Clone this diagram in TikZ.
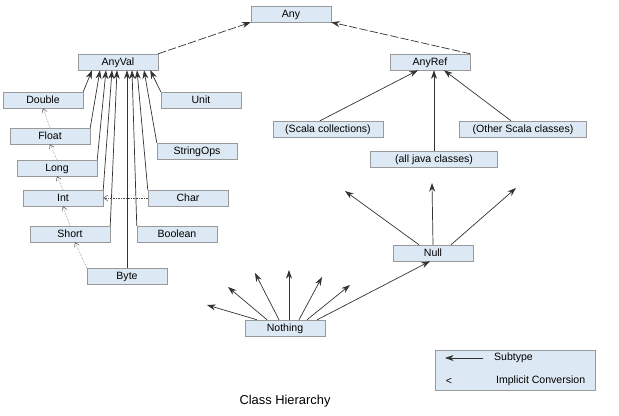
\documentclass[tikz,border=0pt]{standalone}
\usepackage{fontspec}
\setmainfont{Liberation Sans}
\usetikzlibrary{arrows.meta,positioning,calc}
\definecolor{boxfill}{RGB}{220,232,243}
\tikzset{classbox/.style={
		% The shape:
		rectangle,
		% The size:
		minimum width=24mm,minimum height=4.8mm,inner sep=1pt,
		% The border and filling:
		draw=black!40,fill=boxfill,
		% make sure text aligns properly
		font=\fontsize{9}{10}\selectfont,text height=1.5ex,text depth=.25ex,
}}
\tikzset{subtype/.style={-{Stealth[length=2.6mm,width=1.8mm]},black!80,semithick}}
\tikzset{implicit/.style={-{Straight Barb[length=1.2mm,width=1.6mm]},densely dotted,black!70}}

\begin{document}
\begin{tikzpicture}[x=0.03cm,y=-0.03cm]
	\useasboundingbox (0,0) rectangle (619,415);
	% top of the hierarchy
	\node [classbox] (any) at (291,14) {Any};
	\node [classbox] (anyval) at (118,62) {AnyVal};
	\node [classbox] (anyref) at (430,62) {AnyRef};
	% value classes
	\node [classbox] (double) at (43,100) {Double};
	\node [classbox] (float) at (50,136) {Float};
	\node [classbox] (long) at (57,168) {Long};
	\node [classbox] (int) at (63,198) {Int};
	\node [classbox] (short) at (70,234) {Short};
	\node [classbox] (byte) at (127,276) {Byte};
	\node [classbox] (unit) at (201,100) {Unit};
	\node [classbox] (stringops) at (197,151) {StringOps};
	\node [classbox] (char) at (188,198) {Char};
	\node [classbox] (boolean) at (177,234) {Boolean};
	% reference classes
	\node [classbox,minimum width=33mm] (scalacoll) at (328,129) {(Scala collections)};
	\node [classbox,minimum width=38mm] (otherscala) at (523,129) {(Other Scala classes)};
	\node [classbox,minimum width=38mm] (javaclasses) at (434,159) {(all java classes)};
	\node [classbox] (null) at (433,253) {Null};
	\node [classbox] (nothing) at (285,328) {Nothing};
	% free ends of the bottom arrows
	\coordinate (n1) at (345,191);
	\coordinate (n2) at (432,183);
	\coordinate (n3) at (516,188);
	\coordinate (b1) at (207,305);
	\coordinate (b2) at (228,287);
	\coordinate (b3) at (255,273);
	\coordinate (b4) at (289,270);
	\coordinate (b5) at (322,277);
	\coordinate (b6) at (350,285);

	\draw [subtype,dash pattern=on 7pt off 2pt] (anyval.north east) -- (any.south west);
	\draw [subtype,dash pattern=on 7pt off 2pt] (anyref.north east) -- (any.south east);
	% subtypes of AnyVal
	\draw [subtype] (double.north east) -- ($(anyval.south)+(-26,0)$);
	\draw [subtype] (float.north east) -- ($(anyval.south)+(-18,0)$);
	\draw [subtype] (long.north east) -- ($(anyval.south)+(-12,0)$);
	\draw [subtype] (int.north east) -- ($(anyval.south)+(-6,0)$);
	\draw [subtype] (short.north east) -- ($(anyval.south)+(-1,0)$);
	\draw [subtype] (byte.north) -- (byte.north |- anyval.south);
	\draw [subtype] (boolean.north west) -- ($(anyval.south)+(14,0)$);
	\draw [subtype] (char.north west) -- ($(anyval.south)+(19,0)$);
	\draw [subtype] (stringops.north west) -- ($(anyval.south)+(26,0)$);
	\draw [subtype] (unit.north west) -- ($(anyval.south east)+(-8,0)$);
	% implicit conversions
	\draw [implicit] (float.north) -- (double.south);
	\draw [implicit] (long.north) -- (float.south);
	\draw [implicit] (int.north) -- (long.south);
	\draw [implicit] (short.north) -- (int.south);
	\draw [implicit] (char.west) -- (int.east);
	\draw [implicit] (byte.north west) -- ($(short.south)+(5,0)$);
	% subtypes of AnyRef
	\draw [subtype] ($(scalacoll.north)+(-8,0)$) -- ($(anyref.south)+(-12,0)$);
	\draw [subtype] (javaclasses.north) -- (javaclasses.north |- anyref.south);
	\draw [subtype] ($(otherscala.north)+(-12,0)$) -- ($(anyref.south)+(14,0)$);
	% Null and Nothing
	\draw [subtype] ($(null.north)+(-14,0)$) -- (n1);
	\draw [subtype] (null.north) -- (n2);
	\draw [subtype] ($(null.north)+(18,0)$) -- (n3);
	\draw [subtype] ($(nothing.north)+(-28,0)$) -- (b1);
	\draw [subtype] ($(nothing.north)+(-18,0)$) -- (b2);
	\draw [subtype] ($(nothing.north)+(-6,0)$) -- (b3);
	\draw [subtype] ($(nothing.north)+(4,0)$) -- (b4);
	\draw [subtype] ($(nothing.north)+(14,0)$) -- (b5);
	\draw [subtype] ($(nothing.north)+(22,0)$) -- (b6);
	\draw [subtype] ($(nothing.north east)+(-8,0)$) -- ($(null.south)+(-3,0)$);
	% legend
	\node [classbox,minimum width=48mm,minimum height=12mm] (legend) at (515,370) {};
	\coordinate (leg1) at (483,358);
	\coordinate (leg2) at (445,358);
	\draw [subtype] (leg1) -- (leg2);
	\node [font=\fontsize{9}{10}\selectfont,anchor=west] (legsub) at (490,358) {Subtype};
	\node [font=\fontsize{9}{10}\selectfont] (legless) at (449,381) {<};
	\node [font=\fontsize{9}{10}\selectfont,anchor=west] (legimp) at (492,381) {Implicit Conversion};
	\node [font=\fontsize{11}{13}\selectfont] (title) at (285,401) {Class Hierarchy};
\end{tikzpicture}
\end{document}
